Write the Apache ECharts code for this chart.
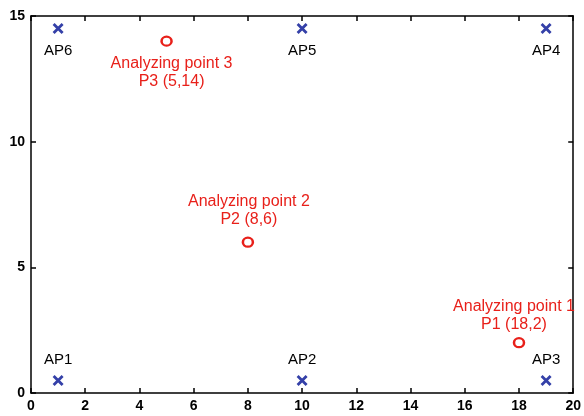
<!DOCTYPE html>
<html><head><meta charset="utf-8">
<script src="https://cdn.jsdelivr.net/npm/echarts@6/dist/echarts.min.js"></script>
<style>html,body{margin:0;padding:0;background:#fff}#c{width:584px;height:416px}</style>
</head><body><div id="c"></div>
<script>
const apNames = ['AP1','AP2','AP3','AP4','AP5','AP6'];
const apX = [1,10,19,19,10,1];
const apY = [0.5,0.5,0.5,14.5,14.5,14.5];
const ptTitles = ['Analyzing point 1','Analyzing point 2','Analyzing point 3'];
const ptCoords = ['P1 (18,2)','P2 (8,6)','P3 (5,14)'];
const ptX = [18,8,5];
const ptY = [2,6,14];
const xMin = 0, xMax = 20, xStep = 2;
const yMin = 0, yMax = 15, yStep = 5;

const font = 'Liberation Sans, Arial, sans-serif';
const apData = apNames.map((n,i)=>({
  value:[apX[i],apY[i]], name:n,
  label:{position: apY[i] > 7 ? 'bottom' : 'top', distance: apY[i] > 7 ? 9 : 7}
}));
const ptOffsets = [[-5,0],[1,0],[5,0]];
const ptDist = [4,8,8];
const ptData = ptTitles.map((t,i)=>({
  value:[ptX[i],ptY[i]], name:t + '\n' + ptCoords[i],
  label:{position: ptY[i] > 12 ? 'bottom' : 'top', distance: ptDist[i], offset: ptOffsets[i]}
}));
const axisCommon = {
  axisLine:{show:true,onZero:false,lineStyle:{color:'#000',width:1.5}},
  axisTick:{show:true,inside:true,length:5,lineStyle:{color:'#000',width:1.5}},
  splitLine:{show:false}
};
const chart = echarts.init(document.getElementById('c'));
chart.setOption({
  animation:false,
  backgroundColor:'#fff',
  grid:{left:31,right:8,top:16,bottom:23,containLabel:false},
  xAxis:[
    Object.assign({type:'value',min:xMin,max:xMax,interval:xStep,position:'bottom',
      axisLabel:{color:'#000',fontSize:14,fontWeight:'bold',fontFamily:font,margin:6}},axisCommon),
    Object.assign({type:'value',min:xMin,max:xMax,interval:xStep,position:'top',
      axisLabel:{show:false}},axisCommon)
  ],
  yAxis:[
    Object.assign({type:'value',min:yMin,max:yMax,interval:yStep,position:'left',
      axisLabel:{color:'#000',fontSize:14,fontWeight:'bold',fontFamily:font,margin:6}},axisCommon),
    Object.assign({type:'value',min:yMin,max:yMax,interval:yStep,position:'right',
      axisLabel:{show:false}},axisCommon)
  ],
  series:[
    {type:'scatter',data:apData,symbol:'path://M0,0L10,10M10,0L0,10',symbolSize:9,
     itemStyle:{color:'transparent',borderColor:'#3440a8',borderWidth:2.8,opacity:1},
     label:{show:true,formatter:'{b}',color:'#000',fontSize:15,fontFamily:font}},
    {type:'scatter',data:ptData,symbol:'circle',symbolSize:[10,9],
     itemStyle:{color:'transparent',borderColor:'#e8201a',borderWidth:2.4,opacity:1},
     label:{show:true,formatter:'{b}',color:'#e8201a',fontSize:16,lineHeight:18,align:'center',fontFamily:font}}
  ]
});
</script></body></html>
